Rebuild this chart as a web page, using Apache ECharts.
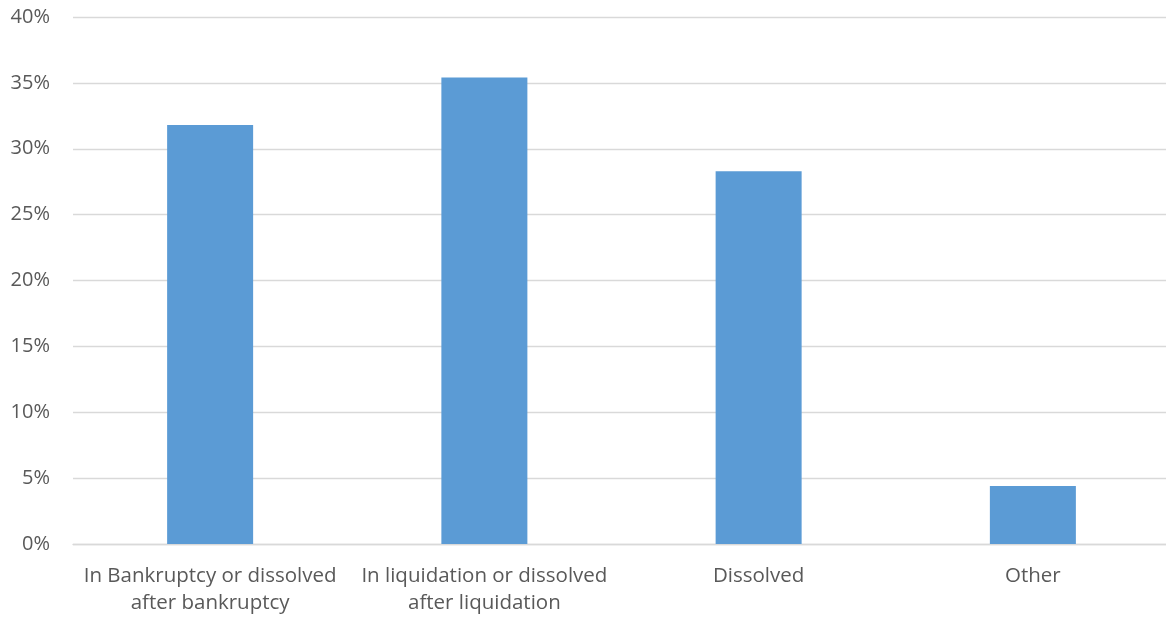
<!DOCTYPE html>
<html>
<head>
<meta charset="utf-8">
<script src="https://cdn.jsdelivr.net/npm/echarts@6/dist/echarts.min.js"></script>
<style>
  html, body { margin: 0; padding: 0; background: #ffffff; overflow: hidden; }
  /* plot area runs a few pixels past the right edge of the window */
  #chart { width: 1170px; height: 619px; }
</style>
</head>
<body>
<div id="chart"></div>
<script>
// Status categories and their shares (percent)
const categories = [
  'In Bankruptcy or dissolved\nafter bankruptcy',
  'In liquidation or dissolved\nafter liquidation',
  'Dissolved',
  'Other'
];
const shares = [31.8, 35.4, 28.3, 4.4];

const chart = echarts.init(document.getElementById('chart'), null, { renderer: 'canvas' });

const textColor = '#595959';
const fontFamily = '"Open Sans", "Noto Sans", sans-serif';

chart.setOption({
  animation: false,
  grid: { left: 73, top: 17, right: 0, height: 527, containLabel: false },
  xAxis: {
    type: 'category',
    data: categories,
    axisLine: { show: true, lineStyle: { color: '#D9D9D9', width: 1.3 } },
    axisTick: { show: false },
    axisLabel: {
      color: textColor,
      fontFamily: fontFamily,
      fontSize: 20.5,
      lineHeight: 27,
      margin: 19,
      interval: 0
    }
  },
  yAxis: {
    type: 'value',
    min: 0,
    max: 40,
    interval: 5,
    axisLine: { show: false },
    axisTick: { show: false },
    splitLine: { lineStyle: { color: '#D9D9D9', width: 1.3 } },
    axisLabel: {
      color: textColor,
      fontFamily: fontFamily,
      fontSize: 20,
      margin: 23,
      formatter: '{value}%'
    }
  },
  series: [{
    type: 'bar',
    data: shares,
    barWidth: 86,
    itemStyle: { color: '#5B9BD5' }
  }]
});
</script>
</body>
</html>
